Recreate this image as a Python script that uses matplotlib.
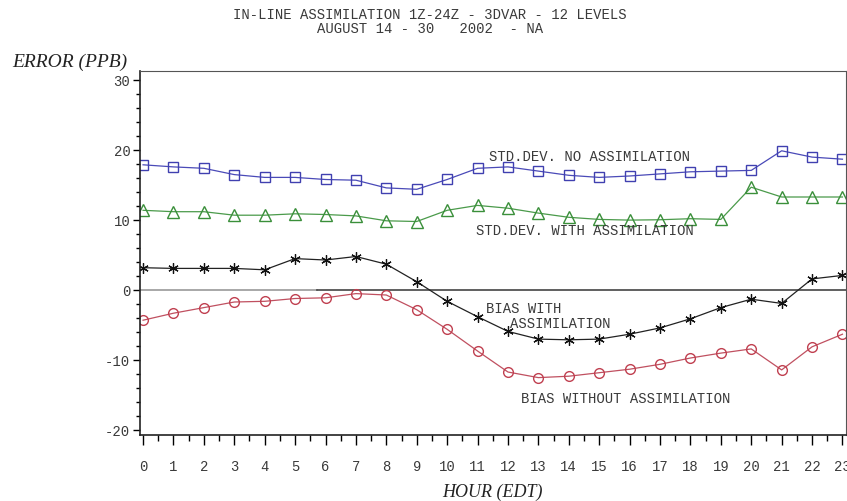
import numpy as np
import matplotlib.pyplot as plt
from matplotlib.ticker import MultipleLocator

plt.rcParams['axes.unicode_minus'] = False

# Donnees (ppb)
hours = list(range(24))
std_no_assim = [17.9, 17.6, 17.4, 16.5, 16.1, 16.1, 15.8, 15.7, 14.6, 14.4, 15.8, 17.4,
                17.6, 17.0, 16.4, 16.1, 16.3, 16.6, 16.9, 17.0, 17.1, 19.9, 19.0, 18.7]
std_with_assim = [11.4, 11.2, 11.2, 10.7, 10.7, 10.9, 10.8, 10.6, 9.9, 9.8, 11.4, 12.1,
                  11.7, 11.0, 10.4, 10.1, 10.0, 10.05, 10.2, 10.1, 14.7, 13.3, 13.3, 13.3]
bias_with_assim = [3.2, 3.1, 3.1, 3.1, 2.9, 4.5, 4.3, 4.8, 3.7, 1.2, -1.6, -3.8,
                   -5.9, -7.0, -7.1, -7.0, -6.3, -5.4, -4.1, -2.5, -1.3, -1.9, 1.6, 2.1]
bias_no_assim = [-4.3, -3.3, -2.5, -1.7, -1.6, -1.2, -1.1, -0.5, -0.7, -2.8, -5.6, -8.7,
                 -11.7, -12.5, -12.3, -11.8, -11.3, -10.6, -9.7, -9.0, -8.4, -11.4, -8.1, -6.3]

mono = 'Liberation Mono'
serif = 'Liberation Serif'
txt_col = '#3a3a3a'

fig = plt.figure(figsize=(8.47, 5.01), dpi=100)
ax = fig.add_axes([0.1653, 0.1317, 0.834, 0.7266])

ax.axhline(0, xmin=0, xmax=0.25, color='#999999', lw=1.2)
ax.axhline(0, xmin=0.25, xmax=1, color='#444444', lw=1.2)

ax.plot(hours, std_no_assim, color='#4a4ab8', lw=0.9, marker='s', ms=7,
        mfc='none', mec='#4040b0', mew=1.0)
ax.plot(hours, std_with_assim, color='#4a9a4a', lw=0.9, marker='^', ms=8,
        mfc='none', mec='#3a8f3a', mew=1.0)
ax.plot(hours, bias_with_assim, color='#222222', lw=0.9, marker=(6, 2, 0), ms=7.5,
        mec='#111111', mew=0.9)
ax.plot(hours, bias_no_assim, color='#c05060', lw=0.9, marker='o', ms=7,
        mfc='none', mec='#c04050', mew=1.0)

# libelles des courbes
ax.text(11.37, 19.0, 'STD.DEV. NO ASSIMILATION', family=mono, fontsize=10,
        color=txt_col, va='center', ha='left')
ax.text(10.94, 8.4, 'STD.DEV. WITH ASSIMILATION', family=mono, fontsize=10,
        color=txt_col, va='center', ha='left')
ax.text(11.27, -2.7, 'BIAS WITH', family=mono, fontsize=10,
        color=txt_col, va='center', ha='left')
ax.text(12.06, -4.9, 'ASSIMILATION', family=mono, fontsize=10,
        color=txt_col, va='center', ha='left')
ax.text(12.42, -15.6, 'BIAS WITHOUT ASSIMILATION', family=mono, fontsize=10,
        color=txt_col, va='center', ha='left')

ax.set_xlim(-0.1, 23.13)
ax.set_ylim(-20.7, 31.3)
ax.set_xticks(hours)
ax.xaxis.set_minor_locator(MultipleLocator(0.5))
ax.set_yticks([-20, -10, 0, 10, 20, 30])
ax.yaxis.set_minor_locator(MultipleLocator(2))
ax.tick_params(axis='x', which='major', length=7, width=1, pad=11)
ax.tick_params(axis='x', which='minor', length=4, width=1)
ax.tick_params(axis='y', which='major', length=5, width=1, pad=2)
ax.tick_params(axis='y', which='minor', length=3, width=1)
for lab in ax.get_xticklabels() + ax.get_yticklabels():
    lab.set_family(mono)
    lab.set_fontsize(10)
    lab.set_color(txt_col)

ax.spines['top'].set_color('#555555')
ax.spines['right'].set_color('#555555')
for s in ['left', 'bottom']:
    ax.spines[s].set_color('#222222')
    ax.spines[s].set_linewidth(1.2)

fig.text(0.508, 0.971, 'IN-LINE ASSIMILATION 1Z-24Z - 3DVAR - 12 LEVELS',
         family=mono, fontsize=10, color=txt_col, ha='center', va='center')
fig.text(0.508, 0.943, 'AUGUST 14 - 30   2002  - NA',
         family=mono, fontsize=10, color=txt_col, ha='center', va='center')
fig.text(0.014, 0.876, 'ERROR (PPB)', family=serif, style='italic', fontsize=14,
         color='#222222', ha='left', va='center')
fig.text(0.581, 0.018, 'HOUR (EDT)', family=serif, style='italic', fontsize=13,
         color='#222222', ha='center', va='center')

fig.savefig('out.png', dpi=100)
